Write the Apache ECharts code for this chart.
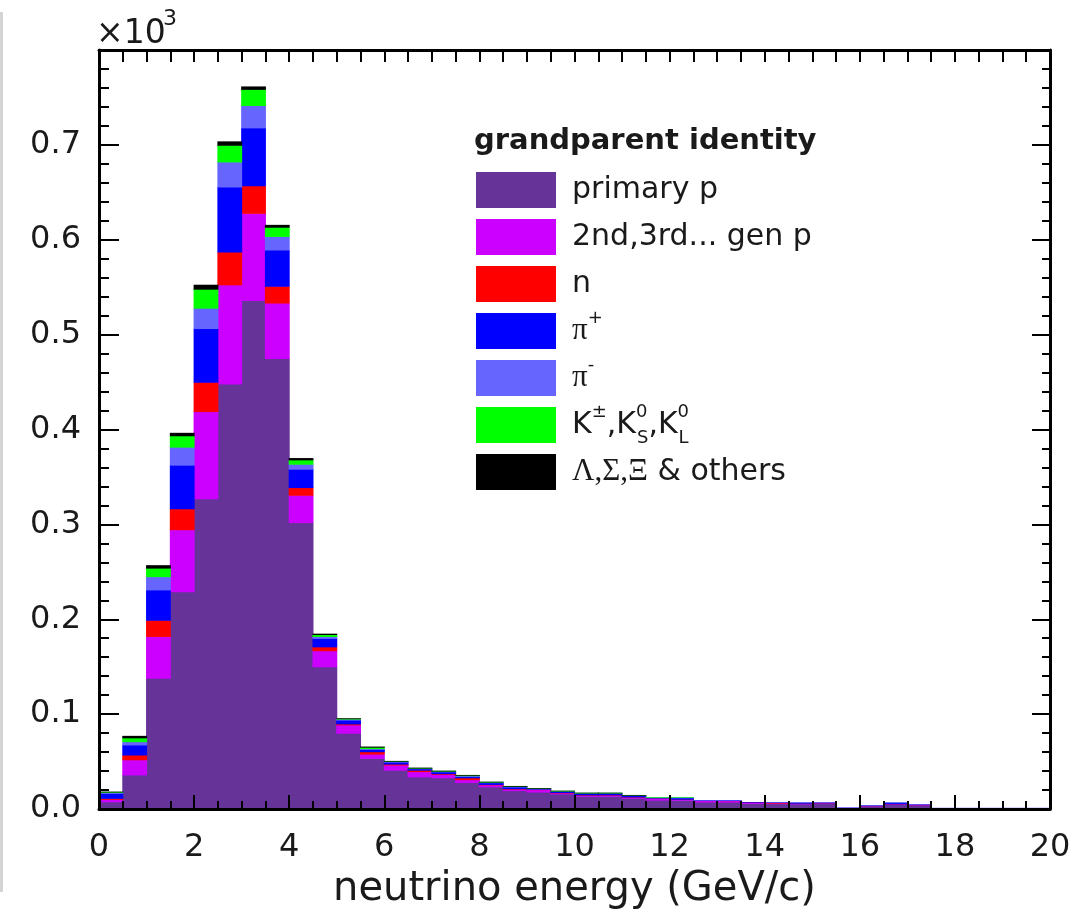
<!DOCTYPE html>
<html><head><meta charset="utf-8">
<script src="https://cdn.jsdelivr.net/npm/echarts@6/dist/echarts.min.js"></script>
<style>html,body{margin:0;padding:0;background:#fff}#c{width:1074px;height:916px}</style>
</head><body><div id="c"></div>
<script>
// 0.5 GeV bins from 0 to 20 GeV/c
const categories = ['0-0.5','0.5-1','1-1.5','1.5-2','2-2.5','2.5-3','3-3.5','3.5-4','4-4.5','4.5-5',
  '5-5.5','5.5-6','6-6.5','6.5-7','7-7.5','7.5-8','8-8.5','8.5-9','9-9.5','9.5-10',
  '10-10.5','10.5-11','11-11.5','11.5-12','12-12.5','12.5-13','13-13.5','13.5-14','14-14.5','14.5-15',
  '15-15.5','15.5-16','16-16.5','16.5-17','17-17.5','17.5-18','18-18.5','18.5-19','19-19.5','19.5-20'];

// values in units of 10^3
const primaryP = [0.0077,0.036,0.138,0.229,0.327,0.448,0.536,0.475,0.302,0.150,
  0.080,0.0535,0.041,0.034,0.033,0.028,0.0235,0.0195,0.018,0.016,
  0.0135,0.0135,0.0115,0.0095,0.0093,0.0075,0.0074,0.006,0.0058,0.0055,
  0.0062,0.001,0.0033,0.0052,0.0042,0.0008,0.0008,0.0008,0.0008,0.0008];
const laterGenP = [0.0025,0.016,0.044,0.0655,0.092,0.1046,0.092,0.0584,0.0288,0.017,
  0.0088,0.0045,0.0055,0.0055,0.0035,0.003,0.002,0.0015,0.0025,0.001,
  0.001,0.0012,0.001,0.0018,0.0008,0.0015,0.0015,0.0012,0.0005,0.0005,
  0.0004,0.0003,0.0003,0.0003,0.0004,0.0003,0.0003,0.0003,0.0003,0.0003];
const neutron = [0.0011,0.005,0.017,0.022,0.031,0.0345,0.029,0.0176,0.0081,0.004,
  0.001,0.0025,0.001,0.0015,0.0008,0.002,0.0005,0.0005,0.0004,0.0004,
  0.0004,0.0003,0.0003,0.0003,0.0003,0.0002,0.0002,0.0001,0.0008,0.0002,
  0.0001,0,0.0001,0.0001,0.0001,0,0,0,0,0];
const piPlus = [0.0053,0.0106,0.032,0.046,0.0565,0.0686,0.061,0.0383,0.0194,0.009,
  0.004,0.0025,0.002,0.0015,0.002,0.0015,0.0018,0.0018,0.0005,0.0013,
  0.0017,0.0016,0.0015,0.0004,0.0015,0.0002,0.0003,0.0001,0.0002,0.0007,
  0.0002,0.0001,0.0002,0.0012,0.0002,0.0001,0.0001,0.0001,0.0001,0.0001];
const piMinus = [0.001,0.0035,0.014,0.019,0.0215,0.0264,0.0236,0.0143,0.0052,0.002,
  0.001,0.0008,0.0007,0.0005,0.0006,0.0007,0.0005,0.0005,0.0003,0.0003,
  0.0003,0.0003,0.0003,0.0002,0.0003,0.0001,0.0001,0,0.0001,0.0001,
  0.0001,0.0001,0.0001,0.0002,0.0001,0,0,0,0,0];
const kaons = [0.0005,0.004,0.009,0.012,0.020,0.0176,0.017,0.0097,0.0046,0.002,
  0.0005,0.0015,0.0003,0.0003,0.0003,0.0005,0.0003,0.0003,0.0001,0.0002,
  0.0002,0.0002,0.0001,0.0001,0.0001,0,0,0,0,0,
  0,0,0,0,0,0,0,0,0,0];
const hyperons = [0.0002,0.002,0.003,0.003,0.0046,0.004,0.003,0.0024,0.0018,0.0008,
  0.0003,0.0005,0.0002,0.0003,0.0002,0.0002,0.0002,0.0002,0.0001,0.0001,
  0.0001,0.0001,0.0001,0,0,0,0,0,0,0,
  0,0,0,0,0,0,0,0,0,0];

const seriesNames = ['primary p','2nd,3rd... gen p','n','π+','π-','K±,K0S,K0L','Λ,Σ,Ξ & others'];
const seriesColors = ['#663399','#cc00ff','#ff0000','#0000ff','#6666ff','#00ff00','#000000'];
const seriesData = [primaryP, laterGenP, neutron, piPlus, piMinus, kaons, hyperons];
const legendLabels = {
  'primary p': 'primary p',
  '2nd,3rd... gen p': '2nd,3rd... gen p',
  'n': 'n',
  'π+': '{g|π}{sup|+}',
  'π-': '{g|π}{sup|-}',
  'K±,K0S,K0L': 'K{sup|±},K{supz|0}{sub|S},K{supz|0}{sub|L}',
  'Λ,Σ,Ξ & others': '{g|Λ,Σ,Ξ} & others'
};

// stacked histogram table: [bin index, lower edge, upper edge]
const stackBase = categories.map(() => 0);
const stackedTables = seriesData.map(arr => arr.map((v, j) => {
  const lo = stackBase[j];
  stackBase[j] = lo + v;
  return [j, lo, lo + v];
}));

const FONT = 'DejaVu Sans';
const TXT = '#1a1a1a';
const frameLine = {show: true, onZero: false, lineStyle: {color: '#000', width: 3}};

function makeRenderItem(color) {
  return function (params, api) {
    const lowV = api.value(1), highV = api.value(2);
    if (!(highV > lowV)) return null;
    const j = api.value(0);
    const pLo = api.coord([j, lowV]);
    const pHi = api.coord([j, highV]);
    const w = api.size([1, 0])[0];
    return {
      type: 'rect',
      shape: {x: pLo[0] - w / 2 - 0.5, y: pHi[1], width: w + 1, height: pLo[1] - pHi[1] + 0.6},
      style: {fill: color}
    };
  };
}

const chart = echarts.init(document.getElementById('c'), null, {renderer: 'canvas'});
chart.setOption({
  backgroundColor: '#fff',
  animation: false,
  title: {
    text: 'grandparent identity', left: 474, top: 127, padding: 0,
    textStyle: {fontFamily: FONT, fontWeight: 'bold', fontSize: 29, color: TXT}
  },
  legend: {
    orient: 'vertical', left: 476, top: 168, padding: 0,
    itemWidth: 80, itemHeight: 36, itemGap: 3, icon: 'rect', selectedMode: false,
    data: seriesNames,
    formatter: name => legendLabels[name],
    textStyle: {
      fontFamily: FONT, fontSize: 30, lineHeight: 44, color: TXT, padding: [0, 0, 0, 11],
      rich: {
        g: {fontFamily: 'Liberation Serif', fontSize: 31, lineHeight: 44, color: TXT},
        sup: {fontFamily: FONT, fontSize: 18, lineHeight: 20, verticalAlign: 'top', color: TXT},
        supz: {fontFamily: FONT, fontSize: 18, lineHeight: 20, verticalAlign: 'top', width: 1, color: TXT},
        sub: {fontFamily: FONT, fontSize: 18, lineHeight: 20, verticalAlign: 'bottom', color: TXT}
      }
    }
  },
  grid: {left: 99, right: 24, top: 50, bottom: 107, outerBoundsMode: 'none'},
  xAxis: [
    {
      type: 'value', position: 'bottom', min: 0, max: 20, interval: 2, z: 10,
      axisLine: frameLine,
      axisTick: {show: true, inside: true, length: 14, lineStyle: {color: '#000', width: 2}},
      minorTick: {show: true, splitNumber: 4, length: 8, lineStyle: {color: '#000', width: 2}},
      splitLine: {show: false}, minorSplitLine: {show: false},
      axisLabel: {fontFamily: FONT, fontSize: 32, color: TXT, margin: 23},
      name: 'neutrino energy (GeV/c)', nameLocation: 'middle', nameGap: 61,
      nameTextStyle: {fontFamily: FONT, fontSize: 40, color: TXT}
    },
    {
      type: 'value', position: 'top', min: 0, max: 20, interval: 2, z: 10,
      axisLine: frameLine,
      axisTick: {show: true, inside: true, length: 12, lineStyle: {color: '#000', width: 2}},
      minorTick: {show: true, splitNumber: 4, length: 12, lineStyle: {color: '#000', width: 2}},
      splitLine: {show: false}, axisLabel: {show: false}
    },
    {type: 'category', data: categories, show: false, boundaryGap: true}
  ],
  yAxis: [
    {
      type: 'value', position: 'left', min: 0, max: 0.8, interval: 0.1, z: 10,
      axisLine: frameLine,
      axisTick: {show: true, inside: true, length: 20, lineStyle: {color: '#000', width: 2}},
      minorTick: {show: true, splitNumber: 5, length: 10, lineStyle: {color: '#000', width: 2}},
      splitLine: {show: false},
      axisLabel: {
        fontFamily: FONT, fontSize: 32, color: TXT, margin: 18,
        formatter: v => (v > 0.75 ? '' : v.toFixed(1))
      }
    },
    {
      type: 'value', position: 'right', min: 0, max: 0.8, interval: 0.1, z: 10,
      axisLine: frameLine,
      axisTick: {show: true, inside: true, length: 18, lineStyle: {color: '#000', width: 2}},
      minorTick: {show: true, splitNumber: 5, length: 8, lineStyle: {color: '#000', width: 2}},
      splitLine: {show: false}, axisLabel: {show: false}
    }
  ],
  graphic: [
    {type: 'rect', left: 0, top: 12, z: -1, shape: {width: 3, height: 880}, style: {fill: '#d4d4d4'}},
    {type: 'text', left: 96, top: 18, style: {text: '×10', font: '33px "DejaVu Sans"', fill: TXT}},
    {type: 'text', left: 163, top: 8, style: {text: '3', font: '22px "DejaVu Sans"', fill: TXT}}
  ],
  series: seriesNames.map((name, i) => ({
    name: name, type: 'custom', xAxisIndex: 2, yAxisIndex: 0,
    data: stackedTables[i], encode: {x: 0, y: 2},
    renderItem: makeRenderItem(seriesColors[i]),
    itemStyle: {color: seriesColors[i]},
    emphasis: {disabled: true}
  }))
});
</script></body></html>
